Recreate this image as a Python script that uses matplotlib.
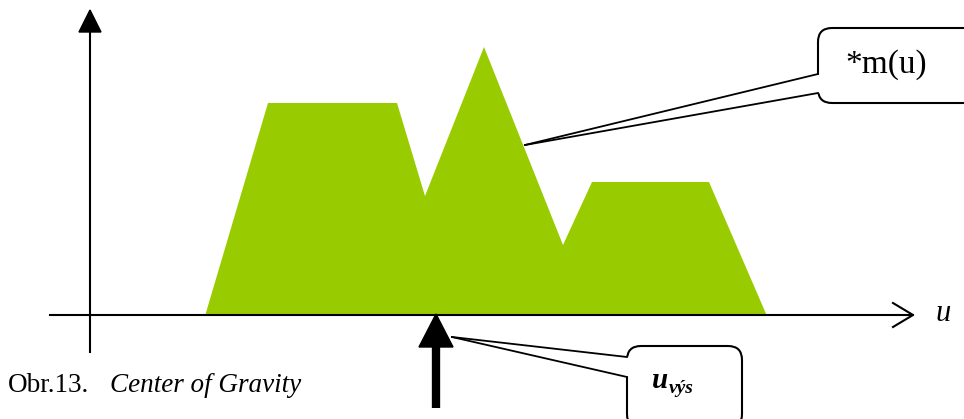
import matplotlib.pyplot as plt
from matplotlib.patches import Polygon, FancyBboxPatch

# membership function outline (u, m) relative to origin of axes
u_pts = [115, 178, 307, 335, 394, 473, 502, 619, 677]
m_pts = [2, 215, 215, 122, 271, 73, 136, 136, 2]
u_cog = 346  # centre of gravity position

fig = plt.figure(figsize=(9.64, 4.19), dpi=100)
ax = fig.add_axes([0, 0, 1, 1])
ax.set_xlim(-90, 874)
ax.set_ylim(318 - 419, 318)
ax.axis('off')

serif = ['Liberation Serif', 'DejaVu Serif']

# filled membership area
pts = list(zip(u_pts, m_pts))
ax.add_patch(Polygon(pts, closed=True, facecolor='#99CC00', edgecolor='none', zorder=2))

# horizontal axis with open chevron head
ax.plot([-40, 823], [3, 3], color='black', lw=1.5, zorder=3)
ax.plot([803, 823, 803], [15, 3, -9], color='black', lw=1.5, zorder=3)
ax.text(853, 5, 'u', family=serif, style='italic', fontsize=22, va='center', ha='center')

# vertical axis with filled head
ax.plot([0, 0], [-34, 290], color='black', lw=1.5, zorder=3)
ax.add_patch(Polygon([(-11, 286), (11, 286), (0, 308)], closed=True, color='black', zorder=3))

# centre of gravity arrow
ax.plot([u_cog, u_cog], [-90, -27], color='black', lw=6, solid_capstyle='butt', zorder=4)
ax.add_patch(Polygon([(u_cog - 17, -29), (u_cog + 17, -29), (u_cog, 4)],
                     closed=True, color='black', zorder=4))


def callout(x0, y0, w, h, tip, ya, yb):
    box = FancyBboxPatch((x0, y0), w, h, boxstyle='round,pad=0,rounding_size=14',
                         facecolor='white', edgecolor='black', lw=1.5, zorder=5)
    ax.add_patch(box)
    ax.add_patch(Polygon([tip, (x0 + 3, ya), (x0 + 3, yb)], closed=True,
                         facecolor='white', edgecolor='none', zorder=6))
    ax.plot([tip[0], x0], [tip[1], ya], color='black', lw=1.3, zorder=7)
    ax.plot([tip[0], x0], [tip[1], yb], color='black', lw=1.3, zorder=7)


callout(728, 215, 170, 75, (435, 173), 244, 225)
ax.text(796, 253, '*m(u)', family=serif, fontsize=24, ha='center', va='center', zorder=8)

callout(537, -110, 115, 82, (362, -19), -39, -59)
ax.text(562, -70, 'u', family=serif, fontsize=21, weight='bold', style='italic',
        ha='left', va='baseline', zorder=8)
ax.text(579, -75, 'výs', family=serif, fontsize=14, weight='bold', style='italic',
        ha='left', va='baseline', zorder=8)

# caption
ax.text(-82, -67, 'Obr.13.', family=serif, fontsize=19.5, va='center', ha='left')
ax.text(20, -67, 'Center of Gravity', family=serif, style='italic', fontsize=19.5,
        va='center', ha='left')

fig.savefig('out.png', dpi=100)
